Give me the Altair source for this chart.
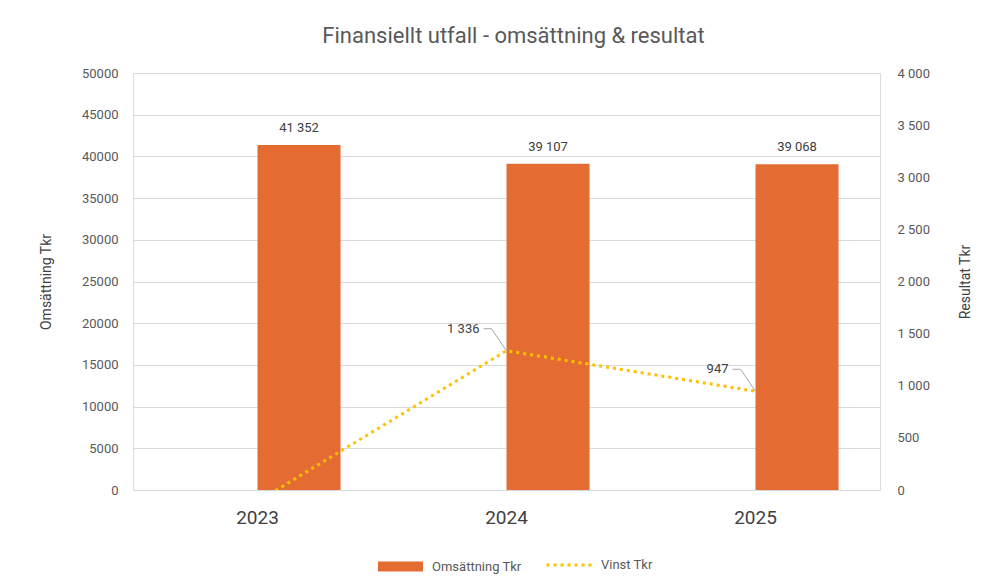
import altair as alt
import pandas as pd

years = ["2023", "2024", "2025"]
omsattning = [41352, 39107, 39068]
vinst = [-110, 1336, 947]
vinst_shown = [False, True, True]
series_bar = "Omsättning Tkr"
series_line = "Vinst Tkr"

oms_ticks = list(range(0, 50001, 5000))
vinst_ticks = list(range(0, 4001, 500))


def spaced(n):
    return f"{n:,}".replace(",", " ")


df = pd.DataFrame({
    "year": years,
    "oms": omsattning,
    "vinst": vinst,
    "oms_label": [spaced(v) for v in omsattning],
    "vinst_label": [spaced(v) if s else "" for v, s in zip(vinst, vinst_shown)],
    "s1": series_bar,
    "s2": series_line,
})

FONT = "Roboto"
ORANGE = "#E46C32"
YELLOW = "#FFC000"
GRID = "#D9D9D9"
TXT = "#595959"
DARK = "#404040"

x = alt.X(
    "year:N",
    sort=years,
    scale=alt.Scale(paddingInner=0.333, paddingOuter=0.1665),
    axis=alt.Axis(title=None, labelAngle=0, labelFontSize=19, labelColor=DARK,
                  labelPadding=18, ticks=False, domainColor=GRID, labelFont=FONT),
)
xoff = alt.XOffset("s1:N", scale=alt.Scale(domain=["_", series_bar], paddingInner=0, paddingOuter=0))

y_left = alt.Y(
    "oms:Q",
    scale=alt.Scale(domain=[0, 50000], nice=False),
    axis=alt.Axis(title="Omsättning Tkr", values=oms_ticks, format="d", labelFontSize=13,
                  labelColor=TXT, labelPadding=15, ticks=False, domain=False,
                  gridColor=GRID, titleFontSize=14, titleFontWeight="normal",
                  titleColor=DARK, titlePadding=28, labelFont=FONT, titleFont=FONT),
)

y_right = alt.Y(
    "vinst:Q",
    scale=alt.Scale(domain=[0, 4000], nice=False),
    axis=alt.Axis(orient="right", title="Resultat Tkr", values=vinst_ticks,
                  labelExpr="replace(format(datum.value, ','), ',', ' ')",
                  labelFontSize=13, labelColor=TXT, labelPadding=17, ticks=False,
                  domain=False, grid=False, titleFontSize=14, titleFontWeight="normal",
                  titleColor=DARK, titlePadding=43, titleAngle=270,
                  labelFont=FONT, titleFont=FONT),
)

bars = alt.Chart(df).mark_bar(color=ORANGE).encode(
    x=x, xOffset=xoff, y=y_left,
    color=alt.Color("s1:N", scale=alt.Scale(domain=[series_bar], range=[ORANGE]),
                    legend=alt.Legend(title=None, orient="none", legendX=240, legendY=466,
                                      symbolType="stroke", symbolSize=2025,
                                      symbolStrokeWidth=10, symbolStrokeColor=ORANGE,
                                      labelFontSize=13, labelColor=TXT, labelFont=FONT)),
)

bar_text = alt.Chart(df).mark_text(dy=-17, fontSize=13, color=DARK, font=FONT).encode(
    x=x, xOffset=xoff, y=y_left, text="oms_label:N"
)

left = alt.layer(bars, bar_text)

line = alt.Chart(df).mark_line(color=YELLOW, strokeWidth=3, clip=True).encode(
    x=x, y=y_right,
    strokeDash=alt.StrokeDash("s2:N", scale=alt.Scale(domain=[series_line], range=[[3, 4]]),
                              legend=alt.Legend(title=None, orient="none", legendX=412, legendY=466,
                                                symbolType="stroke", symbolSize=2400,
                                                symbolStrokeWidth=3, symbolStrokeColor=YELLOW,
                                                labelFontSize=13, labelColor=TXT, labelFont=FONT)),
)

labeled = alt.Chart(df).transform_filter("datum.vinst_label != ''")

leader1 = labeled.mark_rule(color="#A6A6A6", strokeWidth=1, x2Offset=-15, y2Offset=-22).encode(
    x=alt.X("year:N", sort=years, bandPosition=0.5), x2=alt.X2("year", bandPosition=0.5),
    y=y_right, y2=alt.Y2("vinst"),
)
leader2 = labeled.mark_rule(color="#A6A6A6", strokeWidth=1, xOffset=-15, yOffset=-22,
                            x2Offset=-23, y2Offset=-22).encode(
    x=alt.X("year:N", sort=years, bandPosition=0.5), x2=alt.X2("year", bandPosition=0.5),
    y=y_right, y2=alt.Y2("vinst"),
)
line_text = labeled.mark_text(align="right", baseline="middle", dx=-27, dy=-22,
                              fontSize=13, color=DARK, font=FONT).encode(
    x=x, y=y_right, text="vinst_label:N"
)

right = alt.layer(line, leader1, leader2, line_text)

chart = alt.layer(left, right).resolve_scale(y="independent").properties(
    width=747,
    height=417,
    autosize=alt.AutoSizeParams(type="none"),
    padding={"left": 125, "top": 65, "right": 110, "bottom": 89},
    title=alt.TitleParams("Finansiellt utfall - omsättning & resultat", fontSize=22,
                          color=TXT, font=FONT, fontWeight="normal", offset=19,
                          anchor="middle", dx=7),
).configure_view(stroke=None).configure(background="white")

chart.save("out.html", embed_options={"renderer": "svg", "actions": False})
